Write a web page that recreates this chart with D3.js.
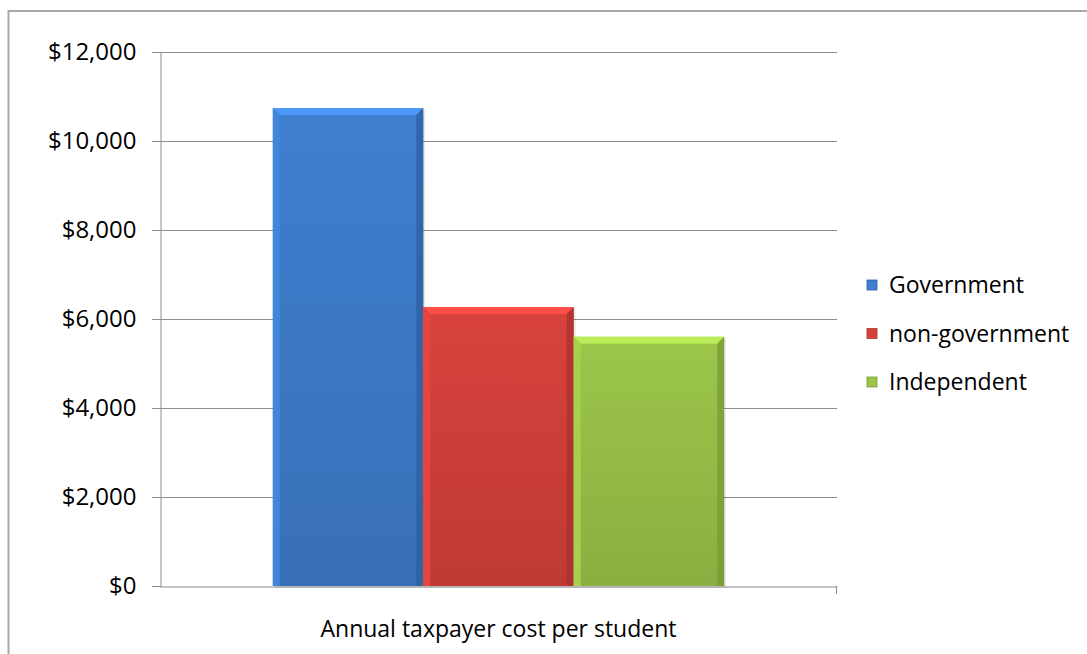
<!DOCTYPE html>
<html>
<head>
<meta charset="utf-8">
<script src="https://cdn.jsdelivr.net/npm/d3@7"></script>
<style>
  body { margin: 0; background: #fff; }
  text { font-family: "Open Sans", sans-serif; fill: #000; }
</style>
</head>
<body>
<svg id="chart" width="1087" height="654"></svg>
<script>
// data
var category = "Annual taxpayer cost per student";
var series = ["Government", "non-government", "Independent"];
var costs = [10740, 6270, 5600];
var yTicks = [0, 2000, 4000, 6000, 8000, 10000, 12000];
var colours = ["#3f7fcf", "#d8423c", "#9cc64a"];
var darker = ["#2e5f9f", "#a8302c", "#789a35"];

var svg = d3.select("#chart"),
    width = +svg.attr("width"),
    height = +svg.attr("height");

var margin = {left: 160, right: 250, top: 52, bottom: 68};

// outer frame, only left and top visible
svg.append("rect")
    .attr("x", 8.5).attr("y", 11)
    .attr("width", width + 20).attr("height", height + 20)
    .attr("fill", "none")
    .attr("stroke", "#a9a9a9")
    .attr("stroke-width", 2);

var x0 = d3.scaleBand()
    .domain([category])
    .range([margin.left, width - margin.right]);

// excel default gap width 150% -> bars take 3/(3+1.5) of the band
var x1 = d3.scaleBand()
    .domain(series)
    .range([x0(category) + x0.bandwidth() * 0.75 / 4.5,
            x0(category) + x0.bandwidth() * (1 - 0.75 / 4.5)]);

var y = d3.scaleLinear()
    .domain([0, 12000])
    .range([height - margin.bottom, margin.top]);

// gridlines
svg.append("g")
    .selectAll("line")
    .data(yTicks.slice(1))
    .enter().append("line")
    .attr("x1", margin.left - 8)
    .attr("x2", width - margin.right)
    .attr("y1", function (d) { return Math.round(y(d)) + 0.5; })
    .attr("y2", function (d) { return Math.round(y(d)) + 0.5; })
    .attr("stroke", "#8c8c8c");

// y axis
var yAxis = svg.append("g")
    .attr("transform", "translate(" + (margin.left + 0.5) + ",0)")
    .call(d3.axisLeft(y)
        .tickValues(yTicks)
        .tickSize(8)
        .tickPadding(16)
        .tickFormat(function (d) { return "$" + d3.format(",")(d); }));
yAxis.select(".domain").attr("stroke", "#8c8c8c");
yAxis.selectAll(".tick line").attr("stroke", "#8c8c8c");
yAxis.selectAll("text")
    .style("font-size", "24px")
    .attr("fill", "#000");

// x axis
var xAxis = svg.append("g")
    .attr("transform", "translate(0," + (Math.round(y(0)) + 0.5) + ")")
    .call(d3.axisBottom(x0).tickSize(0).tickFormat(""));
xAxis.select(".domain").attr("stroke", "#8c8c8c");
svg.append("line")
    .attr("x1", x0.range()[1] - 0.5).attr("x2", x0.range()[1] - 0.5)
    .attr("y1", y(0)).attr("y2", y(0) + 8)
    .attr("stroke", "#8c8c8c");

svg.append("text")
    .attr("x", x0(category) + x0.bandwidth() / 2)
    .attr("y", height - 17)
    .attr("text-anchor", "middle")
    .style("font-size", "23px")
    .text(category);

// bars with bevel
var defs = svg.append("defs");
series.forEach(function (s, i) {
    var g = defs.append("linearGradient")
        .attr("id", "grad" + i)
        .attr("x1", 0).attr("x2", 0).attr("y1", 0).attr("y2", 1);
    g.append("stop").attr("offset", "0%").attr("stop-color", colours[i]);
    g.append("stop").attr("offset", "100%").attr("stop-color", d3.color(colours[i]).darker(0.35));
});

var bars = svg.append("g")
    .selectAll("g")
    .data(costs)
    .enter().append("g");

bars.append("rect")
    .attr("x", function (d, i) { return x1(series[i]) + 2; })
    .attr("y", function (d) { return y(d) + 2; })
    .attr("width", x1.bandwidth())
    .attr("height", function (d) { return y(0) - y(d); })
    .attr("fill", "#000")
    .attr("opacity", 0.08);

bars.append("rect")
    .attr("x", function (d, i) { return x1(series[i]); })
    .attr("y", function (d) { return y(d); })
    .attr("width", x1.bandwidth())
    .attr("height", function (d) { return y(0) - y(d); })
    .attr("fill", function (d, i) { return "url(#grad" + i + ")"; });

var bev = 7;
// top bevel
bars.append("polygon")
    .attr("points", function (d, i) {
        var l = x1(series[i]), r = l + x1.bandwidth(), t = y(d);
        return [[l, t], [r, t], [r - bev, t + bev], [l + bev, t + bev]].join(" ");
    })
    .attr("fill", function (d, i) { return d3.color(colours[i]).brighter(0.5); });
// left bevel
bars.append("polygon")
    .attr("points", function (d, i) {
        var l = x1(series[i]), t = y(d), b = y(0);
        return [[l, t], [l + bev, t + bev], [l + bev, b], [l, b]].join(" ");
    })
    .attr("fill", function (d, i) { return d3.color(colours[i]).brighter(0.15); });
// right bevel
bars.append("polygon")
    .attr("points", function (d, i) {
        var r = x1(series[i]) + x1.bandwidth(), t = y(d), b = y(0);
        return [[r, t], [r - bev, t + bev], [r - bev, b], [r, b]].join(" ");
    })
    .attr("fill", function (d, i) { return darker[i]; })
    .attr("opacity", 0.75);

// legend
var legend = svg.append("g")
    .selectAll("g")
    .data(series)
    .enter().append("g")
    .attr("transform", function (d, i) { return "translate(867," + (285 + i * 48.5) + ")"; });

legend.append("rect")
    .attr("x", 0).attr("y", -5)
    .attr("width", 10).attr("height", 10)
    .attr("fill", function (d, i) { return colours[i]; })
    .attr("stroke", function (d, i) { return darker[i]; })
    .attr("stroke-width", 0.8);

legend.append("text")
    .attr("x", 22)
    .attr("dy", "0.35em")
    .style("font-size", "23px")
    .text(function (d) { return d; });
</script>
</body>
</html>
